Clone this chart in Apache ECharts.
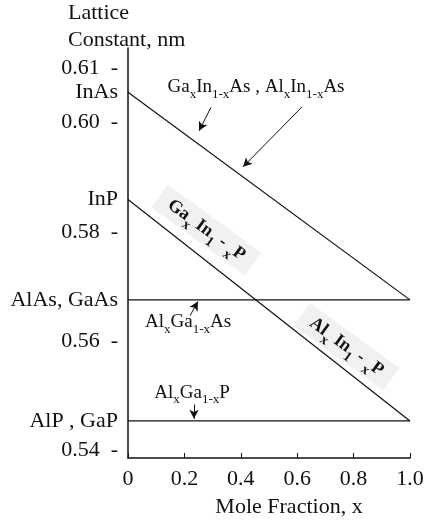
<!DOCTYPE html>
<html><head><meta charset="utf-8">
<script src="https://cdn.jsdelivr.net/npm/echarts@6/dist/echarts.min.js"></script>
<style>html,body{margin:0;padding:0;background:#fff}#c{width:435px;height:527px}</style>
</head><body><div id="c"></div>
<script>
// Data
const xTicks = [0, 0.2, 0.4, 0.6, 0.8, 1.0];
const xTickLabels = ['0', '0.2', '0.4', '0.6', '0.8', '1.0'];
const yTicks = [0.54, 0.56, 0.58, 0.60, 0.61];
const materialNames = ['InAs', 'InP', 'AlAs, GaAs', 'AlP , GaP'];
const materialValues = [0.6056, 0.5859, 0.5675, 0.5453];
// lines: [x0,y0],[x1,y1]
const lineGaInAs = [[0, 0.6056], [1, 0.5675]];
const lineGaInP  = [[0, 0.5859], [1, 0.5453]];
const lineAlGaAs = [[0, 0.5675], [1, 0.5675]];
const lineAlGaP  = [[0, 0.5453], [1, 0.5453]];
// annotation arrows (data coords): [tail, tip]
const arrows = [
  [[0.294, 0.6028], [0.252, 0.5985]],
  [[0.617, 0.6029], [0.408, 0.5919]],
  [[0.220, 0.5646], [0.248, 0.5672]],
  [[0.234, 0.5483], [0.234, 0.5457]]
];
const labelPositions = {
  top: [0.454, 0.6066],
  algaas: [0.213, 0.5635],
  algap: [0.227, 0.5505],
  gainp: [0.278, 0.5803],
  alinp: [0.775, 0.5589]
};

const FONT = 'Liberation Serif';
const rich = {
  n: {fontFamily: FONT, fontSize: 19, color: '#111', lineHeight: 22},
  s: {fontFamily: FONT, fontSize: 13, color: '#111', lineHeight: 12, verticalAlign: 'bottom', padding: [0,0,-3,0]},
  b: {fontFamily: FONT, fontSize: 18, color: '#111', fontWeight: 'bold', lineHeight: 22},
  bs: {fontFamily: FONT, fontSize: 14, color: '#111', fontWeight: 'bold', lineHeight: 12, verticalAlign: 'bottom', padding: [0,0,-4,0]}
};

function lineSeries(d) {
  return {type: 'line', data: d, symbol: 'none', silent: true,
    lineStyle: {color: '#111', width: 1.2}, animation: false, z: 3};
}
function textPoint(coord, formatter, rotate, bg) {
  return {coord: coord, symbol: 'circle', symbolSize: 1,
    itemStyle: {color: 'rgba(0,0,0,0)'},
    label: {show: true, position: 'inside', formatter: formatter, rich: rich,
      rotate: rotate || 0, backgroundColor: bg || 'transparent',
      padding: bg ? [3, 12, 3, 12] : 0}};
}

const chart = echarts.init(document.getElementById('c'));
chart.setOption({
  animation: false,
  backgroundColor: '#fff',
  grid: {left: 128, right: 25, top: 48, bottom: 69},
  xAxis: {
    type: 'value', min: 0, max: 1, interval: 0.2,
    axisLine: {lineStyle: {color: '#111', width: 1.5}},
    axisTick: {show: true, inside: true, length: 5, lineStyle: {color: '#111'}},
    splitLine: {show: false},
    axisLabel: {color: '#111', fontFamily: FONT, fontSize: 22, margin: 10,
      formatter: v => { const i = xTicks.findIndex(t => Math.abs(t - v) < 1e-9); return i >= 0 ? xTickLabels[i] : ''; }},
    name: 'Mole Fraction, x', nameLocation: 'middle', nameGap: 38,
    nameTextStyle: {color: '#111', fontFamily: FONT, fontSize: 22, padding: [0, 0, 0, 40]}
  },
  yAxis: [{
    type: 'value', min: 0.5385, max: 0.6137,
    axisLine: {show: true, lineStyle: {color: '#111', width: 1.5}},
    axisTick: {show: false},
    splitLine: {show: false},
    axisLabel: {customValues: yTicks, color: '#111', fontFamily: FONT, fontSize: 22, margin: 10,
      formatter: v => v.toFixed(2) + '  -'}
  }, {
    type: 'value', min: 0.5385, max: 0.6137, position: 'left',
    axisLine: {show: false}, axisTick: {show: false}, splitLine: {show: false},
    axisLabel: {customValues: materialValues, color: '#111', fontFamily: FONT, fontSize: 22, margin: 10,
      formatter: v => { const i = materialValues.findIndex(t => Math.abs(t - v) < 1e-6); return i >= 0 ? materialNames[i] : ''; }}
  }],
  graphic: [{type: 'text', left: 68, top: 0,
    style: {text: 'Lattice\nConstant, nm', font: '22px "Liberation Serif"', fill: '#111', lineHeight: 27}}],
  series: [
    lineSeries(lineGaInAs),
    lineSeries(lineGaInP),
    lineSeries(lineAlGaAs),
    Object.assign(lineSeries(lineAlGaP), {
      markLine: {silent: true, symbol: ['none', 'arrow'], symbolSize: [7, 9], label: {show: false},
        lineStyle: {color: '#111', width: 1, type: 'solid'},
        data: arrows.map(a => [{coord: a[0]}, {coord: a[1]}])},
      markPoint: {silent: true, data: [
        textPoint(labelPositions.top, '{n|Ga}{s|x}{n|In}{s|1-x}{n|As , Al}{s|x}{n|In}{s|1-x}{n|As}'),
        textPoint(labelPositions.algaas, '{n|Al}{s|x}{n|Ga}{s|1-x}{n|As}'),
        textPoint(labelPositions.algap, '{n|Al}{s|x}{n|Ga}{s|1-x}{n|P}'),
        textPoint(labelPositions.gainp, '{b|Ga}{bs|x}{b| In}{bs|1}{b| - }{bs|x}{b|P}', -36, '#f1f1f1'),
        textPoint(labelPositions.alinp, '{b|Al}{bs|x}{b| In}{bs|1}{b| - }{bs|x}{b|P}', -36, '#f1f1f1')
      ]}
    })
  ]
});
</script></body></html>
